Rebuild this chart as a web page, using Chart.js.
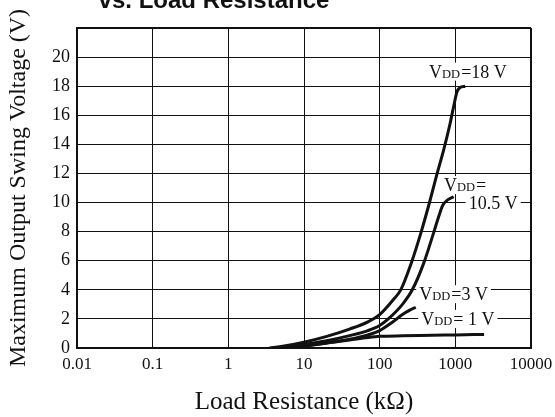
<!DOCTYPE html>
<html>
<head>
<meta charset="utf-8">
<script src="https://cdn.jsdelivr.net/npm/chart.js@4/dist/chart.umd.min.js"></script>
<style>
  html, body { margin: 0; padding: 0; background: #fff; }
  #wrap { width: 555px; height: 417px; position: relative; }
</style>
</head>
<body>
<div id="wrap"><canvas id="swingChart"></canvas></div>
<script>
// ---- data: load resistance (kOhm) -> max output swing (V)
const r18 = [3.5, 5, 10, 20, 40, 70, 100, 150, 190, 260, 350, 450, 575, 700, 850, 950, 1050, 1150, 1350];
const v18 = [0, 0.1, 0.4, 0.8, 1.3, 1.8, 2.3, 3.3, 4.0, 5.8, 7.9, 9.9, 12.0, 13.6, 15.4, 16.6, 17.6, 17.9, 18.0];

const r105 = [4, 10, 20, 40, 70, 100, 130, 200, 270, 380, 515, 600, 680, 800, 950];
const v105 = [0, 0.25, 0.5, 0.85, 1.2, 1.55, 2.0, 3.0, 4.0, 5.8, 7.9, 9.0, 9.8, 10.2, 10.4];

const r3 = [4, 10, 20, 40, 70, 100, 150, 200, 250, 300];
const v3 = [0, 0.15, 0.35, 0.6, 0.9, 1.2, 1.8, 2.3, 2.6, 2.8];

const r1 = [5, 10, 20, 40, 70, 100, 200, 500, 1000, 2400];
const v1 = [0, 0.15, 0.35, 0.55, 0.72, 0.8, 0.84, 0.87, 0.9, 0.93];

const xTicks = [0.01, 0.1, 1, 10, 100, 1000, 10000];
const xTickLabels = ["0.01", "0.1", "1", "10", "100", "1000", "10000"];

// curve captions, anchored in data units (x = kOhm, y = V, left / middle)
const captions = [
  { x: 450, y: 19.0, sub: true, tail: "=18 V" },
  { x: 708, y: 11.2, sub: true, tail: "=" },
  { x: 1500, y: 10.0, sub: false, tail: "10.5 V" },
  { x: 333, y: 3.7, sub: true, tail: "=3 V" },
  { x: 354, y: 2.0, sub: true, tail: "= 1 V" },
];

const serif = "'Liberation Serif', 'DejaVu Serif', serif";

function toPoints(xs, ys) {
  return xs.map((x, i) => ({ x: x, y: ys[i] }));
}

function curve(label, xs, ys) {
  return {
    label: label,
    data: toPoints(xs, ys),
    borderColor: "#111",
    borderWidth: 3,
    pointRadius: 0,
    fill: false,
    cubicInterpolationMode: "monotone",
  };
}

// chart heading, cut off at the top edge like the scan
const headingPlugin = {
  id: "heading",
  afterDraw(chart) {
    const ctx = chart.ctx;
    ctx.save();
    ctx.fillStyle = "#111";
    ctx.font = "bold 24px 'Liberation Sans', Arial, sans-serif";
    ctx.textAlign = "center";
    ctx.textBaseline = "alphabetic";
    ctx.fillText("vs. Load Resistance", 214, 8);
    ctx.restore();
  },
};

// V_DD captions with a white box behind them
const captionPlugin = {
  id: "captions",
  beforeDatasetsDraw(chart) {
    const ctx = chart.ctx;
    const xs = chart.scales.x;
    const ys = chart.scales.y;
    const big = "18px " + serif;
    const small = "12.5px " + serif;
    ctx.save();
    ctx.textBaseline = "alphabetic";
    ctx.textAlign = "left";
    captions.forEach((c) => {
      const px = xs.getPixelForValue(c.x);
      const py = ys.getPixelForValue(c.y);
      const base = py + 6;
      ctx.font = big;
      let w = ctx.measureText(c.tail).width;
      let wV = 0, wD = 0;
      if (c.sub) {
        wV = ctx.measureText("V").width;
        ctx.font = small;
        wD = ctx.measureText("DD").width + 1;
        w += wV + wD;
      }
      ctx.fillStyle = "#fff";
      ctx.fillRect(px - 3, py - 9, w + 6, 18);
      ctx.fillStyle = "#111";
      let cx = px;
      if (c.sub) {
        ctx.font = big;
        ctx.fillText("V", cx, base);
        cx += wV;
        ctx.font = small;
        ctx.fillText("DD", cx, base);
        cx += wD;
      }
      ctx.font = big;
      ctx.fillText(c.tail, cx, base);
    });
    ctx.restore();
  },
};

const edgeWidth = (max) => (ctx) => (ctx.tick && ctx.tick.value === max ? 2 : 1);

new Chart(document.getElementById("swingChart"), {
  type: "line",
  data: {
    datasets: [
      curve("VDD = 18 V", r18, v18),
      curve("VDD = 10.5 V", r105, v105),
      curve("VDD = 3 V", r3, v3),
      curve("VDD = 1 V", r1, v1),
    ],
  },
  options: {
    responsive: true,
    maintainAspectRatio: false,
    animation: false,
    layout: { padding: { top: 28, right: 24, bottom: 0, left: 0 } },
    plugins: {
      legend: { display: false },
      tooltip: { enabled: false },
    },
    scales: {
      x: {
        type: "logarithmic",
        min: 0.01,
        max: 10000,
        afterBuildTicks: (s) => {
          s.ticks = xTicks.map((v) => ({ value: v }));
        },
        afterFit: (s) => {
          s.height = 69;
          s.paddingLeft = 0;
          s.paddingRight = 0;
        },
        ticks: {
          autoSkip: false,
          maxRotation: 0,
          padding: 6,
          color: "#111",
          font: { family: serif, size: 17 },
          callback: (v, i) => xTickLabels[i],
        },
        grid: { color: "#111", lineWidth: edgeWidth(10000), drawTicks: false },
        border: { color: "#111", width: 2 },
        title: {
          display: true,
          text: "Load Resistance (kΩ)",
          color: "#111",
          font: { family: serif, size: 25 },
          padding: { top: 0, bottom: 0 },
        },
      },
      y: {
        min: 0,
        max: 22,
        afterFit: (s) => {
          s.width = 77;
        },
        ticks: {
          stepSize: 2,
          padding: 7,
          color: "#111",
          font: { family: serif, size: 18 },
          callback: (v) => (v === 22 ? "" : v),
        },
        grid: { color: "#111", lineWidth: edgeWidth(22), drawTicks: false },
        border: { color: "#111", width: 2 },
        title: {
          display: true,
          text: "Maximum Output Swing Voltage (V)",
          color: "#111",
          font: { family: serif, size: 24 },
          padding: { top: 4, bottom: 0 },
        },
      },
    },
  },
  plugins: [headingPlugin, captionPlugin],
});
</script>
</body>
</html>
